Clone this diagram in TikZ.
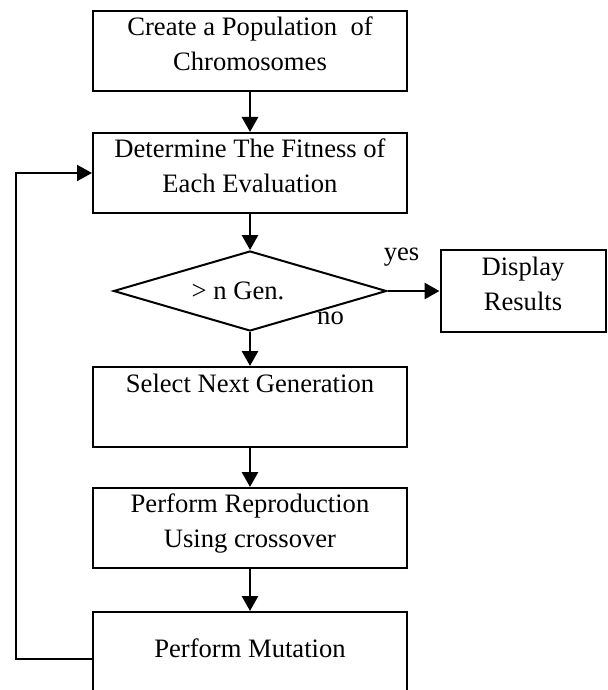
\documentclass[tikz,border=0pt]{standalone}
\usepackage{fontspec}
\setmainfont{Liberation Serif}
\usetikzlibrary{positioning, shapes.geometric, arrows.meta}
\tikzset{
    base/.style={draw=black, line width=1pt, align=center, font=\fontsize{13.3}{17.5}\selectfont},
    stepbox/.style={base, rectangle, minimum width=157pt, minimum height=40pt, inner sep=2pt},
    raised/.style={text depth=7pt},
    decision/.style={base, diamond, aspect=3.35, minimum width=136.5pt, minimum height=40pt, inner sep=0pt},
    arrow/.style={-{Triangle[length=7.5pt, width=8pt]}, line width=1.4pt},
    lbl/.style={font=\fontsize{13.3}{15}\selectfont}
}
\begin{document}
\begin{tikzpicture}[x=0.5pt, y=-0.5pt]
\useasboundingbox (0,0) rectangle (608,690);

% Nodes
\node[stepbox, raised] (create) at (250,51) {Create a Population~ of\\Chromosomes};
\node[stepbox, raised, below=20pt of create] (fitness) {Determine The Fitness of\\Each Evaluation};
\node[decision, below=18pt of fitness] (gen) {> n Gen.\kern 12pt};
\node[stepbox, below=17pt of gen] (select) {Select Next Generation\\[6pt]~};
\node[stepbox, raised, below=19.5pt of select] (reproduce) {Perform Reproduction\\Using crossover};
\node[stepbox, below=21pt of reproduce, minimum height=53.5pt] (mutate) {Perform Mutation\\~};
\node[stepbox, raised, right=26pt of gen, minimum width=82.5pt, minimum height=41pt] (display) {Display\\Results};

% Labels
\node[lbl] (yes) at ([xshift=7pt, yshift=17pt]gen.east) {yes};
\node[lbl] (no) at ([xshift=-28.5pt, yshift=-13.5pt]gen.east) {no};

% Flow
\draw[arrow] (create) -- (fitness);
\draw[arrow] (fitness) -- (gen);
\draw[arrow] (gen) -- (display);
\draw[arrow] (gen) -- (select);
\draw[arrow] (select) -- (reproduce);
\draw[arrow] (reproduce) -- (mutate);

% Loop back
\coordinate (back) at ([xshift=-38pt, yshift=-24pt]mutate.north west);
\draw[arrow, line width=1pt] (back -| mutate.west) -- (back) |- (fitness.west);

\end{tikzpicture}
\end{document}
